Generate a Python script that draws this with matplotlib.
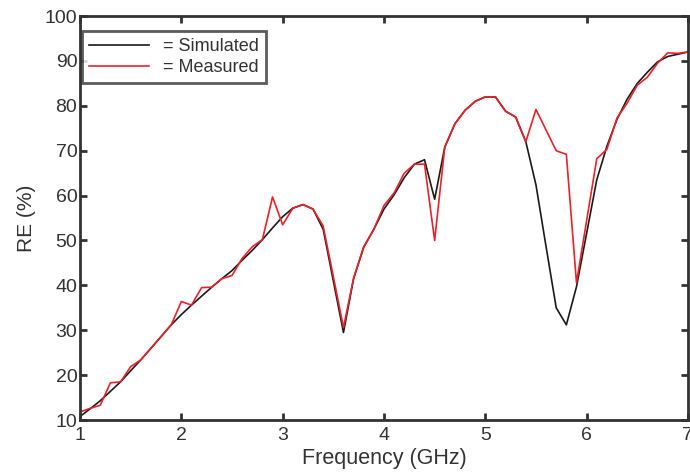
import numpy as np
import matplotlib.pyplot as plt

plt.rcParams['font.family'] = ['Liberation Sans', 'DejaVu Sans']

freq = np.round(np.arange(1.0, 7.01, 0.1), 1)

simulated = [10.8, 12.5, 14.3, 16.4, 18.5, 21.0, 23.4, 26.0, 28.6, 31.2,
             33.5, 35.6, 37.6, 39.6, 41.5, 43.3, 45.6, 47.8, 50.2, 52.8,
             55.3, 57.2, 58.0, 57.0, 52.5, 41.0, 29.5, 41.5, 48.5, 52.5,
             57.0, 60.2, 64.0, 67.0, 68.0, 59.2, 70.8, 76.0, 79.0, 81.0,
             82.0, 82.0, 78.8, 77.5, 72.0, 62.4, 48.6, 35.0, 31.2, 39.7,
             51.6, 63.5, 71.0, 77.0, 81.5, 85.0, 87.5, 89.8, 91.0, 91.5,
             92.0]

measured = [11.8, 12.6, 13.3, 18.3, 18.5, 21.9, 23.4, 26.0, 28.6, 31.2,
            36.4, 35.6, 39.5, 39.6, 41.5, 42.2, 46.0, 48.6, 50.2, 59.7,
            53.5, 57.2, 58.0, 57.0, 53.2, 42.0, 30.6, 41.6, 48.6, 52.5,
            57.8, 60.6, 65.0, 67.0, 67.0, 50.0, 70.8, 76.0, 79.0, 81.0,
            82.0, 82.0, 78.8, 77.5, 72.0, 79.2, 74.6, 70.0, 69.2, 40.6,
            54.4, 68.2, 70.3, 77.3, 80.6, 84.6, 86.4, 89.5, 91.8, 91.7,
            92.0]

fig = plt.figure(figsize=(6.9, 4.73), dpi=100)
ax = fig.add_axes([0.116, 0.112, 0.881, 0.854])

ax.plot(freq, simulated, color='#1a1a1a', lw=1.2, label='= Simulated')
ax.plot(freq, measured, color='#e8222a', lw=1.2, label='= Measured')

ax.set_xlim(1, 7)
ax.set_ylim(10, 100)
ax.set_xticks(range(1, 8))
ax.set_yticks(range(10, 101, 10))

for s in ax.spines.values():
    s.set_color('#333333')
    s.set_linewidth(2)
ax.tick_params(direction='in', length=5, width=2, color='#333333',
               labelsize=14, labelcolor='#333333', pad=2,
               top=True, right=True)
ax.tick_params(axis='x', pad=5)

ax.set_xlabel('Frequency (GHz)', fontsize=15.5, color='#333333', labelpad=3)
ax.set_ylabel('RE (%)', fontsize=15, color='#333333', labelpad=6)

leg = ax.legend(loc='upper left', bbox_to_anchor=(0.003, 1 - 15 / 404),
                fontsize=13, frameon=True, fancybox=False, handlelength=3.3,
                borderaxespad=0, handletextpad=0.8, borderpad=0.4,
                labelspacing=0.2)
leg.get_frame().set_edgecolor('#333333')
leg.get_frame().set_linewidth(2)
for t in leg.get_texts():
    t.set_color('#333333')

fig.savefig('out.png', dpi=100)
